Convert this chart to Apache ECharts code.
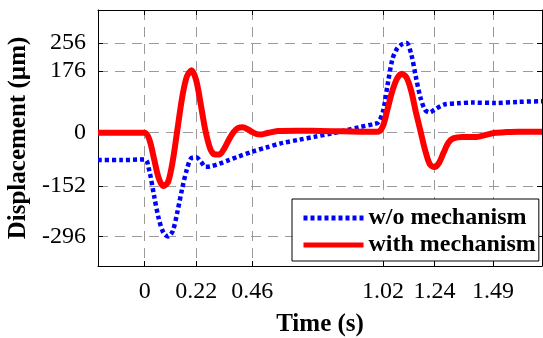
<!DOCTYPE html>
<html>
<head>
<meta charset="utf-8">
<script src="https://cdn.jsdelivr.net/npm/echarts@6/dist/echarts.min.js"></script>
<style>
  html, body { margin: 0; padding: 0; background: #fff; }
  #chart { width: 543px; height: 338px; }
</style>
</head>
<body>
<div id="chart"></div>
<script>
// tick positions & labels
const xTicks = [0, 0.22, 0.46, 1.02, 1.24, 1.49]
const yTicks = [-296, -152, 0, 176, 256]

// w/o mechanism (blue dotted) : [time s, displacement um]
const woMechanism = [
  [-0.2, -78], [-0.1, -78], [0, -76], [0.02, -110], [0.04, -180], [0.06, -245],
  [0.08, -285], [0.10, -296], [0.12, -280], [0.14, -225], [0.16, -160], [0.18, -105],
  [0.20, -72], [0.22, -70], [0.24, -82], [0.26, -97], [0.28, -96], [0.32, -88],
  [0.36, -78], [0.40, -68], [0.46, -54], [0.52, -42], [0.59, -29], [0.66, -20],
  [0.73, -11], [0.80, -2], [0.86, 7], [0.92, 16], [0.98, 25], [1.00, 30],
  [1.02, 62], [1.04, 140], [1.06, 210], [1.08, 240], [1.10, 252], [1.12, 256],
  [1.14, 225], [1.16, 160], [1.18, 100], [1.20, 65], [1.22, 58], [1.24, 66],
  [1.28, 80], [1.34, 84], [1.40, 86], [1.50, 85], [1.60, 88], [1.70, 90]
]

// with mechanism (red solid)
const withMechanism = [
  [-0.2, 0], [-0.1, 0], [0, 0], [0.02, -20], [0.04, -75], [0.06, -130],
  [0.08, -152], [0.10, -140], [0.12, -80], [0.14, 10], [0.16, 100], [0.18, 160],
  [0.20, 178], [0.22, 150], [0.24, 80], [0.26, 5], [0.28, -45], [0.30, -62],
  [0.32, -62], [0.34, -45], [0.36, -20], [0.38, 2], [0.40, 14], [0.42, 16],
  [0.44, 10], [0.46, 2], [0.48, -4], [0.50, -5], [0.53, 0], [0.57, 5],
  [0.65, 6], [0.75, 5], [0.85, 4], [0.95, 3], [1.00, 3], [1.02, 20],
  [1.04, 70], [1.06, 120], [1.08, 155], [1.10, 168], [1.12, 158], [1.14, 120],
  [1.16, 60], [1.18, 5], [1.20, -50], [1.22, -90], [1.24, -98], [1.26, -85],
  [1.28, -55], [1.30, -28], [1.32, -16], [1.36, -12], [1.42, -12], [1.46, -6],
  [1.50, 0], [1.55, 2], [1.60, 3], [1.70, 3]
]

const FONT = 'Liberation Serif'

const chart = echarts.init(document.getElementById('chart'))

const gridLine = { show: true, lineStyle: { color: '#9a9a9a', type: [10, 7], width: 1 } }
const blackLine = { show: true, onZero: false, lineStyle: { color: '#000', width: 1 } }

const option = {
  animation: false,
  grid: { left: 98, right: 1, top: 10, bottom: 72, outerBoundsMode: 'none', containLabel: false },
  legend: {
    orient: 'vertical',
    left: 292,
    top: 199,
    padding: [7, 3, 4, 9],
    itemGap: 3,
    itemWidth: 60,
    itemHeight: 14,
    itemStyle: { opacity: 0 },
    lineStyle: { width: 5 },
    backgroundColor: '#fff',
    borderColor: '#000',
    borderWidth: 1,
    textStyle: { fontFamily: FONT, fontWeight: 'bold', fontSize: 24, color: '#000' }
  },
  xAxis: [
    {
      type: 'value', min: -0.2, max: 1.7, position: 'bottom',
      name: 'Time (s)', nameLocation: 'middle', nameGap: 46,
      nameTextStyle: { fontFamily: FONT, fontWeight: 'bold', fontSize: 25, color: '#000' },
      axisLine: blackLine,
      axisTick: { show: true, inside: true, length: 5, customValues: xTicks, lineStyle: { color: '#000' } },
      axisLabel: { customValues: xTicks, formatter: v => String(v), margin: 14,
        fontFamily: FONT, fontSize: 24, color: '#000' },
      splitLine: gridLine
    },
    {
      type: 'value', min: -0.2, max: 1.7, position: 'top',
      axisLine: blackLine,
      axisTick: { show: true, inside: true, length: 5, customValues: xTicks, lineStyle: { color: '#000' } },
      axisLabel: { show: false },
      splitLine: { show: false }
    }
  ],
  yAxis: [
    {
      type: 'value', min: -380, max: 350, position: 'left',
      name: 'Displacement (µm)', nameLocation: 'middle', nameGap: 65,
      nameTextStyle: { fontFamily: FONT, fontWeight: 'bold', fontSize: 25, color: '#000' },
      axisLine: blackLine,
      axisTick: { show: true, inside: true, length: 5, customValues: yTicks, lineStyle: { color: '#000' } },
      axisLabel: { customValues: yTicks, margin: 12, fontFamily: FONT, fontSize: 24, color: '#000' },
      splitLine: gridLine
    },
    {
      type: 'value', min: -380, max: 350, position: 'right',
      axisLine: blackLine,
      axisTick: { show: true, inside: true, length: 5, customValues: yTicks, lineStyle: { color: '#000' } },
      axisLabel: { show: false },
      splitLine: { show: false }
    }
  ],
  series: [
    {
      name: 'w/o mechanism',
      type: 'line',
      data: woMechanism,
      symbol: 'none',
      smooth: 0.3,
      color: '#0000ff',
      lineStyle: { color: '#0000ff', width: 4.5, type: [4, 3], cap: 'butt' },
      z: 2
    },
    {
      name: 'with mechanism',
      type: 'line',
      data: withMechanism,
      symbol: 'none',
      smooth: 0.3,
      color: '#ff0000',
      lineStyle: { color: '#ff0000', width: 6 },
      z: 3
    }
  ]
}

chart.setOption(option)
</script>
</body>
</html>
